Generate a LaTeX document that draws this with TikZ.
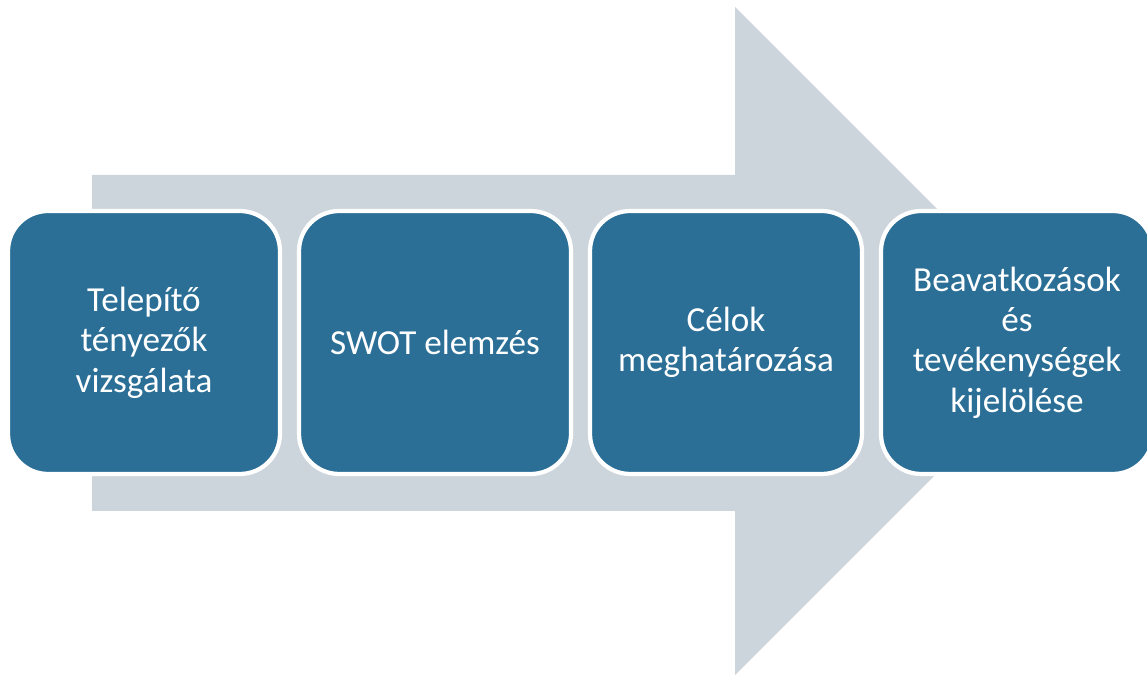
\documentclass[tikz,border=0pt]{standalone}
\usepackage{fontspec}
\setmainfont{Carlito}
\definecolor{arrowgray}{RGB}{205,213,220}
\definecolor{stepblue}{RGB}{43,111,151}
\tikzstyle{stepbox}=[rectangle,rounded corners=0.8cm,fill=stepblue,draw=white,line width=2.4pt,minimum width=5.44cm,minimum height=5.26cm,inner sep=0pt,text=white,align=center,font=\fontsize{20}{23}\selectfont]
\tikzstyle{bigarrow}=[fill=arrowgray]

\begin{document}
\begin{tikzpicture}[x=0.02cm, y=-0.02cm]
				\useasboundingbox (0,0) rectangle (1147,675);
				\clip (0,0) rectangle (1147,675);

				% First we draw the big arrow in the back
				\path[bigarrow] (92,175) -- (735,175) -- (735,7) -- (1069,341)
					-- (735,675) -- (735,511) -- (92,511) -- cycle;

				% Then the steps on top of it
				\foreach \pos/\name/\text in {{(144,342.5)/telepito/{Telepítő\\tényezők\\vizsgálata}},
										{(435,342.5)/swot/{SWOT elemzés}},
										{(726,342.5)/celok/{Célok\\meghatározása}},
										{(1017,342.5)/beavatkozas/{Beavatkozások\\és\\tevékenységek\\kijelölése}}}
				\node[stepbox] (\name) at \pos {\text};
			\end{tikzpicture}
\end{document}
